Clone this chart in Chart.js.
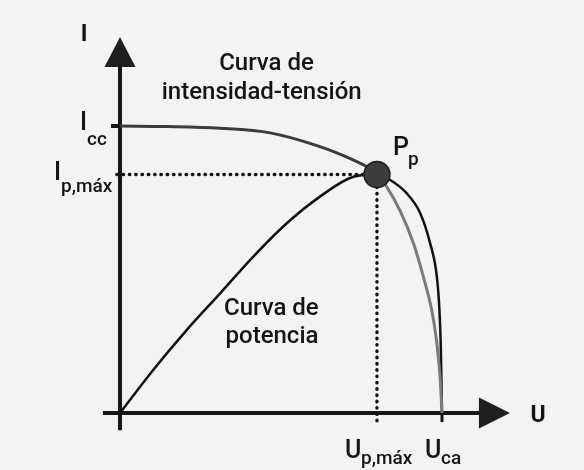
<!DOCTYPE html>
<html>
<head>
<meta charset="utf-8">
<script src="https://cdn.jsdelivr.net/npm/chart.js@4.4.1/dist/chart.umd.min.js"></script>
<style>
  html, body { margin: 0; padding: 0; background: #f3f3f3; }
  #c { display: block; }
</style>
</head>
<body>
<canvas id="c" width="584" height="470"></canvas>
<script>
// ---- Data (normalised: U_ca = 1, I_cc = 1) ----
const U_IV = [0, 0.15, 0.311, 0.466, 0.621, 0.724, 0.767, 0.798, 0.828, 0.870, 0.911, 0.942, 0.968, 0.984, 0.994, 1.0];
const I_IV = [1.0, 0.998, 0.992, 0.976, 0.928, 0.882, 0.858, 0.831, 0.789, 0.704, 0.592, 0.475, 0.359, 0.244, 0.126, 0];

const U_P = [0, 0.103, 0.207, 0.311, 0.414, 0.518, 0.621, 0.725, 0.798, 0.839, 0.890, 0.932, 0.963, 0.984, 0.992, 0.996, 1.0];
const P_P = [0, 0.150, 0.289, 0.417, 0.545, 0.661, 0.754, 0.823, 0.831, 0.812, 0.766, 0.697, 0.592, 0.475, 0.359, 0.244, 0];

const U_PMAX = 0.798;
const I_PMAX = 0.831;
const I_CC = 1.0;
const U_CA = 1.0;

const AXIS_LABELS = ["I", "U"];
const TICK_LABELS = [
  { main: "I", sub: "cc" },
  { main: "I", sub: "p,máx" },
  { main: "U", sub: "p,máx" },
  { main: "U", sub: "ca" },
  { main: "P", sub: "p" }
];
const CURVE_LABELS = [["Curva de", "intensidad-tensión"], ["Curva de", "potencia"]];

const toXY = (xs, ys) => xs.map((x, i) => ({ x: x, y: ys[i] }));

const FONT = "Roboto, 'Liberation Sans', sans-serif";

const bgPlugin = {
  id: 'bg',
  beforeDraw(chart) {
    const ctx = chart.ctx;
    ctx.save();
    ctx.fillStyle = '#f3f3f3';
    ctx.fillRect(0, 0, chart.width, chart.height);
    ctx.restore();
  }
};

const axesPlugin = {
  id: 'axes',
  beforeDatasetsDraw(chart) {
    const ctx = chart.ctx;
    const xs = chart.scales.x, ys = chart.scales.y;
    const X0 = xs.getPixelForValue(0), Y0 = ys.getPixelForValue(0);
    ctx.save();
    ctx.strokeStyle = '#161616';
    ctx.fillStyle = '#1e1e1e';
    ctx.lineWidth = 4;
    ctx.lineCap = 'butt';
    // y axis
    const yTip = ys.getPixelForValue(1.31);
    ctx.beginPath();
    ctx.moveTo(X0, ys.getPixelForValue(-0.06));
    ctx.lineTo(X0, yTip + 20);
    ctx.stroke();
    ctx.beginPath();
    ctx.moveTo(X0, yTip);
    ctx.lineTo(X0 + 15.5, yTip + 30);
    ctx.lineTo(X0 - 15.5, yTip + 30);
    ctx.closePath();
    ctx.fill();
    // x axis
    const xTip = xs.getPixelForValue(1.211);
    ctx.beginPath();
    ctx.moveTo(xs.getPixelForValue(-0.053), Y0);
    ctx.lineTo(xTip - 20, Y0);
    ctx.stroke();
    ctx.beginPath();
    ctx.moveTo(xTip, Y0);
    ctx.lineTo(xTip - 31, Y0 - 15.5);
    ctx.lineTo(xTip - 31, Y0 + 15.5);
    ctx.closePath();
    ctx.fill();
    // I_cc tick
    const yc = ys.getPixelForValue(I_CC);
    ctx.lineWidth = 4;
    ctx.beginPath();
    ctx.moveTo(X0 - 9, yc);
    ctx.lineTo(X0, yc);
    ctx.stroke();
    // U_ca tick
    const xc = xs.getPixelForValue(U_CA);
    ctx.lineWidth = 3;
    ctx.beginPath();
    ctx.moveTo(xc, Y0);
    ctx.lineTo(xc, Y0 + 9);
    ctx.stroke();
    ctx.restore();
  }
};

const labelPlugin = {
  id: 'labels',
  afterDraw(chart) {
    const ctx = chart.ctx;
    const xs = chart.scales.x, ys = chart.scales.y;
    const X0 = xs.getPixelForValue(0), Y0 = ys.getPixelForValue(0);
    ctx.save();
    ctx.fillStyle = '#141414';
    ctx.textBaseline = 'alphabetic';

    // axis names
    ctx.font = "bold 23px " + FONT;
    ctx.textAlign = 'center';
    ctx.fillText(AXIS_LABELS[0], X0 - 36, ys.getPixelForValue(1.297));
    ctx.fillText(AXIS_LABELS[1], xs.getPixelForValue(1.298), Y0 + 9);

    const sub = (lab, x, yb, dx, dy) => {
      ctx.textAlign = 'left';
      ctx.font = "500 25px " + FONT;
      ctx.fillText(lab.main, x, yb);
      ctx.font = "500 19px " + FONT;
      ctx.fillText(lab.sub, x + dx, yb + dy);
    };
    const yCC = ys.getPixelForValue(I_CC);
    const yPM = ys.getPixelForValue(I_PMAX);
    const xPM = xs.getPixelForValue(U_PMAX);
    const xCA = xs.getPixelForValue(U_CA);
    sub(TICK_LABELS[0], X0 - 40, yCC + 4, 7, 15);
    sub(TICK_LABELS[1], X0 - 66, yPM + 5, 7, 12);
    sub(TICK_LABELS[2], xPM - 32, Y0 + 45, 16, 6);
    sub(TICK_LABELS[3], xCA - 17, Y0 + 45, 16, 6);
    sub(TICK_LABELS[4], xPM + 16, yPM - 20, 15, 10);

    // curve names
    ctx.textAlign = 'center';
    ctx.font = "500 24px " + FONT;
    ctx.fillText(CURVE_LABELS[0][0], xs.getPixelForValue(0.455), ys.getPixelForValue(1.195));
    ctx.fillText(CURVE_LABELS[0][1], xs.getPixelForValue(0.440), ys.getPixelForValue(1.094));
    ctx.fillText(CURVE_LABELS[1][0], xs.getPixelForValue(0.470), ys.getPixelForValue(0.341));
    ctx.fillText(CURVE_LABELS[1][1], xs.getPixelForValue(0.472), ys.getPixelForValue(0.244));
    ctx.restore();
  }
};

const xMin = -120 / 322, xMax = 464 / 322;
const yMin = -57 / 287, yMax = 413 / 287;

new Chart(document.getElementById('c'), {
  type: 'line',
  data: {
    datasets: [
      {
        label: 'P_p',
        data: [{ x: U_PMAX, y: I_PMAX }],
        showLine: false,
        pointRadius: 13,
        pointBackgroundColor: '#3d3d3d',
        pointBorderColor: '#1c1c1c',
        pointBorderWidth: 1.5
      },
      {
        label: 'Curva de intensidad-tensión',
        data: toXY(U_IV, I_IV),
        borderColor: '#3c3c3c',
        borderWidth: 3,
        pointRadius: 0,
        cubicInterpolationMode: 'monotone',
        segment: {
          borderColor: c => (c.p0.parsed.x >= U_PMAX ? '#7a7a7a' : '#3c3c3c')
        },
        fill: false
      },
      {
        label: 'Curva de potencia',
        data: toXY(U_P, P_P),
        borderColor: '#111111',
        borderWidth: 2.5,
        pointRadius: 0,
        cubicInterpolationMode: 'monotone',
        fill: false
      },
      {
        label: 'I_p,max guide',
        data: [{ x: -0.01, y: I_PMAX }, { x: U_PMAX, y: I_PMAX }],
        borderColor: '#111111',
        borderWidth: 3.4,
        borderDash: [0.5, 5.8],
        borderCapStyle: 'round',
        pointRadius: 0,
        tension: 0
      },
      {
        label: 'U_p,max guide',
        data: [{ x: U_PMAX, y: I_PMAX }, { x: U_PMAX, y: -0.042 }],
        borderColor: '#111111',
        borderWidth: 3.4,
        borderDash: [0.5, 5.8],
        borderCapStyle: 'round',
        pointRadius: 0,
        tension: 0
      }
    ]
  },
  options: {
    responsive: false,
    animation: false,
    devicePixelRatio: 1,
    layout: { padding: 0, autoPadding: false },
    plugins: { legend: { display: false }, tooltip: { enabled: false } },
    scales: {
      x: { type: 'linear', display: false, min: xMin, max: xMax },
      y: { type: 'linear', display: false, min: yMin, max: yMax }
    }
  },
  plugins: [bgPlugin, axesPlugin, labelPlugin]
});
</script>
</body>
</html>
